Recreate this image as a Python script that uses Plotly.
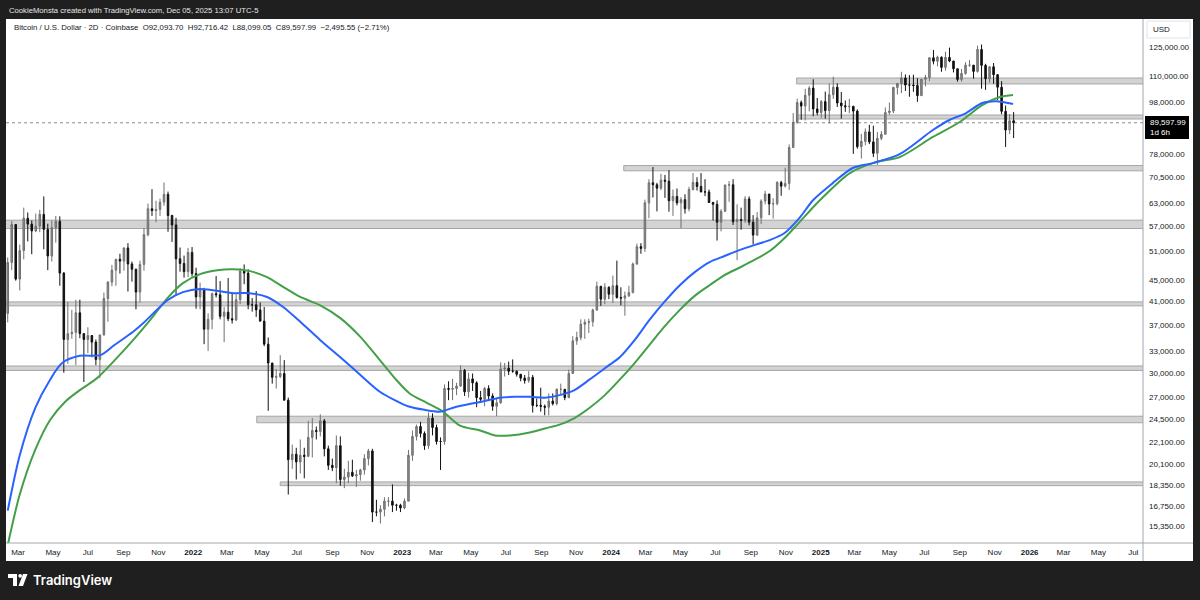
import numpy as np
import pandas as pd
import plotly.graph_objects as go

# ---------------- DATA (weekly candles, thousands of USD; weeks start Mon 2021-02-01) ----------------
close_2021 = [38.9, 48.6, 57.4, 45.2, 51.2, 59.0, 57.5, 55.8, 57.0, 60.0, 56.2, 50.0, 56.6, 58.2, 46.4, 34.7,
              35.6, 35.8, 39.0, 35.6, 34.7, 35.3, 34.3, 31.8, 35.4, 41.5, 44.6, 47.0, 49.3, 48.9, 51.8, 48.3,
              47.2, 42.7, 48.2, 54.9, 61.5, 61.0, 61.3, 63.3, 65.5, 59.7, 57.3, 49.4, 48.4, 46.7, 50.8, 46.3]
high_2021 = [40.9, 49.7, 58.3, 57.5, 52.6, 61.8, 60.5, 58.4, 60.2, 61.2, 64.9, 57.6, 58.4, 59.6, 59.5, 46.6,
             40.9, 39.5, 41.3, 41.3, 35.7, 36.6, 35.1, 34.7, 35.4, 42.6, 44.8, 48.1, 49.3, 50.5, 51.9, 52.9,
             48.8, 47.3, 49.0, 56.5, 62.9, 67.0, 63.7, 64.3, 69.0, 66.3, 59.9, 59.1, 51.9, 50.1, 51.8, 52.0]
low_2021 = [32.3, 37.4, 47.0, 44.9, 43.0, 49.3, 53.3, 50.4, 55.5, 55.5, 51.5, 47.0, 48.8, 53.0, 43.9, 30.0,
            31.2, 34.8, 31.0, 34.9, 28.8, 32.7, 32.1, 31.0, 29.3, 35.3, 37.5, 43.8, 43.9, 46.3, 46.9, 42.8,
            44.7, 39.6, 40.8, 46.9, 54.5, 59.6, 58.0, 59.6, 62.3, 55.6, 53.2, 42.0, 46.7, 45.5, 45.6, 45.7]

close_2022 = [41.8, 43.1, 36.3, 37.9, 42.4, 42.2, 38.4, 39.1, 38.0, 37.8, 41.3, 46.8, 46.4, 40.4, 40.4, 39.5,
              37.6, 34.0, 31.3, 29.4, 29.5, 29.9, 26.6, 20.5, 21.0, 20.3, 20.9, 20.8, 22.6, 23.3, 23.2, 24.3,
              21.5, 20.0, 19.8, 21.8, 18.8, 19.0, 19.4, 19.1, 19.2, 19.6, 20.6, 21.3, 16.3, 16.3, 16.5, 17.1,
              17.1, 16.8, 16.8, 16.6]
high_2022 = [47.5, 44.5, 43.5, 38.9, 42.6, 45.8, 44.8, 40.0, 45.4, 42.6, 42.3, 47.4, 48.2, 47.2, 41.6, 42.9,
             40.8, 40.0, 35.0, 31.3, 30.5, 32.4, 31.7, 26.9, 21.9, 21.6, 22.4, 21.6, 24.3, 24.6, 23.7, 25.0,
             24.5, 21.8, 20.6, 22.8, 22.7, 19.7, 20.4, 20.5, 19.6, 19.7, 21.0, 21.5, 21.5, 17.2, 16.8, 17.4,
             17.4, 18.4, 16.9, 16.9]
low_2022 = [39.7, 39.6, 34.0, 33.0, 36.3, 41.7, 37.9, 34.3, 37.6, 37.2, 37.6, 40.5, 44.2, 39.6, 39.2, 38.3,
            37.6, 33.7, 25.4, 28.6, 28.0, 29.3, 26.6, 17.6, 19.7, 18.8, 19.3, 18.9, 20.8, 20.7, 22.4, 22.7,
            20.8, 19.6, 19.5, 18.5, 18.3, 18.1, 18.5, 19.0, 18.2, 18.7, 19.2, 20.0, 15.6, 16.0, 15.5, 16.0,
            16.7, 16.3, 16.4, 16.3]

close_2023 = [17.1, 20.9, 22.7, 23.7, 23.0, 21.8, 24.6, 23.6, 22.2, 22.2, 28.0, 27.9, 28.0, 28.3, 30.3, 27.6,
              29.2, 28.7, 26.9, 26.7, 28.0, 27.1, 25.9, 26.3, 30.5, 30.6, 30.2, 30.2, 29.8, 29.3, 29.0, 29.4,
              26.0, 26.0, 25.9, 25.8, 26.5, 26.2, 27.9, 27.9, 26.9, 29.9, 34.5, 35.0, 37.1, 37.4, 37.5, 39.5,
              43.8, 41.4, 43.6, 42.3]
high_2023 = [17.3, 21.4, 23.3, 23.9, 24.2, 23.2, 25.2, 25.1, 23.9, 22.6, 28.5, 28.9, 29.2, 28.7, 31.0, 30.5,
             30.0, 29.9, 28.9, 27.7, 28.2, 28.4, 27.4, 26.8, 31.4, 31.3, 31.5, 31.8, 30.3, 29.7, 29.7, 30.2,
             29.7, 26.8, 28.1, 26.1, 27.4, 27.4, 28.0, 28.6, 27.9, 30.4, 35.2, 35.9, 37.9, 37.9, 38.0, 39.7,
             44.7, 43.4, 44.4, 43.8]
low_2023 = [16.5, 17.1, 20.4, 22.3, 22.6, 21.4, 21.5, 22.8, 21.9, 19.6, 21.9, 26.6, 26.6, 27.2, 28.2, 27.1,
            26.9, 27.7, 25.8, 26.3, 25.9, 26.5, 25.4, 24.8, 26.2, 29.5, 29.7, 30.0, 29.5, 28.9, 28.6, 28.7,
            25.2, 25.8, 25.3, 24.9, 24.9, 26.0, 26.0, 27.2, 26.6, 26.9, 29.9, 33.9, 34.6, 34.8, 35.7, 36.7,
            39.3, 40.2, 40.5, 41.4]

close_2024 = [43.9, 41.7, 41.6, 42.0, 42.6, 48.3, 52.1, 51.7, 63.1, 68.9, 68.3, 67.3, 69.7, 69.4, 63.7, 64.9,
              63.1, 64.0, 61.5, 66.9, 69.0, 67.8, 66.2, 66.2, 63.2, 62.7, 58.0, 60.8, 68.2, 68.3, 58.1, 58.7,
              58.4, 64.2, 58.0, 54.8, 59.1, 63.6, 65.6, 62.8, 62.9, 69.0, 67.9, 68.7, 80.4, 89.8, 97.9, 96.4,
              101.1, 104.3, 95.2, 93.7, 98.3]
high_2024 = [45.9, 49.0, 43.6, 42.8, 43.9, 48.6, 52.8, 52.9, 64.0, 70.0, 73.8, 68.9, 71.7, 71.3, 72.8, 66.9,
             67.2, 64.7, 65.5, 67.7, 71.9, 70.6, 71.9, 70.0, 66.9, 63.4, 63.8, 61.4, 68.4, 69.4, 70.0, 62.7,
             61.8, 65.0, 64.9, 59.8, 60.6, 64.1, 66.5, 65.5, 64.4, 69.4, 69.5, 73.6, 81.5, 93.5, 99.6, 98.8,
             104.0, 105.2, 108.4, 99.9, 99.0]
low_2024 = [40.7, 41.5, 40.3, 38.5, 41.8, 42.5, 48.1, 50.5, 50.9, 59.0, 64.6, 60.8, 66.7, 64.5, 60.7, 59.6,
            62.4, 56.5, 60.2, 60.8, 66.6, 66.6, 66.1, 65.0, 63.1, 58.4, 53.5, 55.7, 60.8, 63.4, 57.3, 49.1,
            56.1, 57.8, 57.2, 52.6, 54.6, 57.5, 62.7, 59.8, 58.9, 62.4, 65.1, 67.5, 66.8, 80.2, 89.2, 90.8,
            90.5, 94.2, 92.2, 92.6, 91.4]

close_2025 = [94.5, 101.3, 104.7, 97.7, 96.5, 96.1, 96.3, 94.3, 80.7, 82.6, 86.1, 82.4, 78.4, 83.7, 85.2, 93.7,
              94.3, 104.6, 106.4, 109.0, 105.7, 105.7, 105.5, 100.9, 108.4, 109.2, 119.1, 117.3, 119.4, 114.2,
              119.3, 117.4, 113.5, 108.3, 111.2, 115.3, 115.3, 112.2, 123.5, 115.2, 108.6, 114.5, 110.6, 104.7,
              94.2, 86.8, 90.4, 89.6]
high_2025 = [102.7, 106.4, 109.6, 106.5, 102.5, 98.8, 99.5, 96.5, 95.0, 85.3, 87.4, 88.8, 88.5, 86.0, 86.4, 95.8,
             97.9, 104.9, 106.7, 112.0, 110.7, 110.4, 110.6, 108.9, 108.5, 110.5, 119.5, 123.2, 120.2, 119.8,
             122.3, 124.5, 117.5, 113.5, 113.4, 116.8, 117.9, 113.4, 125.6, 126.2, 116.0, 114.5, 116.4, 110.7,
             107.5, 96.6, 93.1, 93.9]
low_2025 = [91.2, 89.3, 99.5, 96.0, 91.2, 94.0, 93.4, 78.2, 80.0, 76.6, 81.2, 81.6, 77.1, 74.5, 83.0, 85.1,
            92.8, 93.4, 101.4, 102.0, 103.0, 100.4, 102.6, 98.2, 101.2, 105.1, 107.5, 115.7, 114.7, 112.0,
            112.6, 116.8, 111.7, 107.3, 107.3, 110.6, 114.5, 108.7, 111.6, 104.0, 103.5, 106.8, 106.3, 98.9,
            93.0, 80.6, 85.3, 83.8]
first_open = 33.1

# moving averages (thousands of USD)
blue_dates = ["2021-02-11", "2021-03-04", "2021-03-31", "2021-04-26", "2021-05-17", "2021-06-17", "2021-07-23",
              "2021-08-17", "2021-09-18", "2021-10-06", "2021-11-17", "2021-12-14",
              "2022-01-13", "2022-03-12", "2022-04-10", "2022-05-10", "2022-06-07", "2022-07-07", "2022-08-11",
              "2022-09-15", "2022-10-20", "2022-11-23", "2022-12-19",
              "2023-01-11", "2023-02-09", "2023-03-08", "2023-04-03", "2023-05-17", "2023-06-21", "2023-07-17",
              "2023-08-12", "2023-09-07", "2023-10-03", "2023-10-29", "2023-11-24", "2023-12-21",
              "2024-01-16", "2024-02-11", "2024-03-08", "2024-04-03", "2024-04-30", "2024-05-26", "2024-06-21",
              "2024-07-17", "2024-08-12", "2024-09-08", "2024-10-04", "2024-10-30", "2024-11-25", "2024-12-19",
              "2025-01-22", "2025-02-26", "2025-04-02", "2025-05-19", "2025-07-16", "2025-08-14", "2025-09-12",
              "2025-10-10", "2025-11-04", "2025-11-15", "2025-12-03"]
blue_vals = [16.4, 20.9, 25.7, 29.1, 31.3, 32.3, 32.4, 33.9, 35.9, 37.3, 41.2, 42.7,
             43.3, 42.5, 42.5, 41.8, 40.0, 37.5, 34.6, 32.1, 29.7, 27.6, 26.6,
             25.9, 25.5, 25.3, 25.8, 26.4, 26.9, 27.0, 27.0, 26.9, 27.2, 27.8, 29.1, 30.6,
             32.1, 34.6, 37.8, 40.9, 44.0, 46.6, 48.7, 50.0, 51.3, 52.5, 53.6, 55.3, 59.1, 63.9,
             68.8, 73.5, 75.1, 78.1, 86.8, 90.7, 93.5, 97.7, 98.5, 98.1, 97.3]

green_dates = ["2021-02-11", "2021-03-04", "2021-03-31", "2021-04-26", "2021-05-22", "2021-06-17", "2021-07-17",
               "2021-08-17", "2021-09-18", "2021-10-18", "2021-11-17", "2021-12-14",
               "2022-01-13", "2022-02-12", "2022-03-12", "2022-04-10", "2022-05-10", "2022-06-07", "2022-07-07",
               "2022-08-11", "2022-09-15", "2022-10-20", "2022-11-23", "2022-12-19",
               "2023-01-14", "2023-02-13", "2023-03-13", "2023-04-12", "2023-05-17", "2023-06-12", "2023-07-08",
               "2023-08-12", "2023-09-07", "2023-10-03", "2023-10-29", "2023-11-24", "2023-12-21",
               "2024-01-16", "2024-02-11", "2024-03-08", "2024-04-03", "2024-04-30", "2024-05-26", "2024-06-21",
               "2024-07-17", "2024-08-12", "2024-09-08", "2024-10-04", "2024-10-30", "2024-11-25", "2024-12-31",
               "2025-02-21", "2025-04-09", "2025-05-19", "2025-07-16", "2025-09-01", "2025-10-10", "2025-11-10",
               "2025-12-03"]
green_vals = [14.1, 17.6, 21.4, 24.4, 26.4, 27.8, 29.3, 31.7, 34.6, 37.8, 41.6, 44.4,
              46.2, 47.0, 47.2, 46.8, 45.6, 43.7, 41.8, 40.3, 38.1, 35.1, 31.7, 29.3,
              27.4, 26.3, 25.3, 23.8, 23.3, 22.8, 22.8, 23.1, 23.5, 23.9, 24.6, 25.7, 27.2,
              29.1, 31.3, 33.9, 36.7, 39.5, 42.0, 44.0, 46.0, 47.5, 49.2, 51.1, 54.1, 58.0, 63.9,
              71.9, 75.5, 77.1, 84.2, 89.9, 96.8, 100.3, 101.2]

# support / resistance zones (thousands of USD)
zone_lo = [106.2, 91.1, 72.6, 56.4, 40.2, 30.3, 24.1, 18.3]
zone_hi = [109.0, 92.7, 74.3, 58.5, 40.9, 30.9, 24.8, 18.6]
zone_start = ["2024-11-20", "2024-11-20", "2024-01-23", "2021-01-01", "2021-01-01", "2021-01-01",
              "2022-04-22", "2022-06-02"]

last_price = 89597.99
y_ticks = [125000, 110000, 98000, 78000, 70500, 63000, 57000, 51000, 45000, 41000, 37000, 33000,
           30000, 27000, 24500, 22100, 20100, 18350, 16750, 15350]

header = ("Bitcoin / U.S. Dollar · 2D · Coinbase  O92,093.70  H92,716.42  L88,099.05  "
          "C89,597.99  −2,495.55 (−2.71%)")
caption = "CookieMonsta created with TradingView.com, Dec 05, 2025 13:07 UTC-5"

# ---------------- BUILD ----------------
K = 1000.0
close = np.array(close_2021 + close_2022 + close_2023 + close_2024 + close_2025) * K
high = np.array(high_2021 + high_2022 + high_2023 + high_2024 + high_2025) * K
low = np.array(low_2021 + low_2022 + low_2023 + low_2024 + low_2025) * K
open_ = np.concatenate([[first_open * K], close[:-1]])
assert len(close) == len(high) == len(low)
dates = pd.date_range("2021-02-04", periods=len(close), freq="7D")

W, H = 1200, 600
PL, PR, PT, PB = 6, 1143, 19, 543
def px(x):
    return (x - PL) / (PR - PL)
def py(y):
    return (PB - y) / (PB - PT)

DARK = "#1f1f1f"
TXT = "#131722"
FONT = "Liberation Sans"

fig = go.Figure()
fig.add_trace(go.Candlestick(
    x=dates, open=open_, high=high, low=low, close=close,
    increasing=dict(line=dict(color="#707070", width=1), fillcolor="#8c8c8c"),
    decreasing=dict(line=dict(color="#111111", width=1), fillcolor="#111111"),
    whiskerwidth=0, hoverinfo="skip", showlegend=False))
fig.add_trace(go.Scatter(x=pd.to_datetime(green_dates), y=np.array(green_vals) * K, mode="lines",
                         line=dict(color="#43a047", width=2, shape="spline", smoothing=0.8),
                         hoverinfo="skip", showlegend=False))
fig.add_trace(go.Scatter(x=pd.to_datetime(blue_dates), y=np.array(blue_vals) * K, mode="lines",
                         line=dict(color="#2962ff", width=2, shape="spline", smoothing=0.8),
                         hoverinfo="skip", showlegend=False))

shapes = []
for lo, hi, st in zip(zone_lo, zone_hi, zone_start):
    shapes.append(dict(type="rect", xref="x", yref="y", x0=st, x1="2027-01-01",
                       y0=lo * K, y1=hi * K, layer="below",
                       fillcolor="#d3d3d3", line=dict(color="#a6a6a6", width=1)))
# current price dotted line
shapes.append(dict(type="line", xref="paper", yref="y", x0=0, x1=1, y0=last_price, y1=last_price,
                   line=dict(color="#8a8a8a", width=1, dash="dot"), layer="below"))
# dark frame
for x0, x1, y0, y1 in [(0, W, 0, PT), (0, W, 561, H), (0, PL, 0, H), (1193, W, 0, H)]:
    shapes.append(dict(type="rect", xref="paper", yref="paper", x0=px(x0), x1=px(x1), y0=py(y1), y1=py(y0),
                       fillcolor=DARK, line=dict(width=0), layer="above"))
# axis separator lines
shapes.append(dict(type="line", xref="paper", yref="paper", x0=1, x1=1, y0=py(561), y1=py(PT),
                   line=dict(color="#a3a6af", width=1)))
shapes.append(dict(type="line", xref="paper", yref="paper", x0=0, x1=px(1193), y0=0, y1=0,
                   line=dict(color="#a3a6af", width=1)))
# USD box
shapes.append(dict(type="rect", xref="paper", yref="paper", x0=px(1147), x1=px(1190), y0=py(38), y1=py(21),
                   fillcolor="white", line=dict(color="#e0e3eb", width=1)))
# price label box
shapes.append(dict(type="rect", xref="paper", yref="paper", x0=px(1145), x1=px(1189), y0=py(139), y1=py(116),
                   fillcolor="#000000", line=dict(width=0), layer="above"))
# TradingView logo glyph
def path(pts):
    return "M " + " L ".join(f"{px(a)},{py(b)}" for a, b in pts) + " Z"
shapes.append(dict(type="path", xref="paper", yref="paper", path=path([(8, 574), (17, 574), (17, 586), (13, 586),
                                                                        (13, 578), (8, 578)]),
                   fillcolor="white", line=dict(width=0), layer="above"))
shapes.append(dict(type="circle", xref="paper", yref="paper", x0=px(18.3), x1=px(22), y0=py(577.7), y1=py(574),
                   fillcolor="white", line=dict(width=0), layer="above"))
shapes.append(dict(type="path", xref="paper", yref="paper", path=path([(23, 574), (27.5, 574), (23, 586),
                                                                        (18.5, 586)]),
                   fillcolor="white", line=dict(width=0), layer="above"))

ann = [
    dict(text=caption, x=px(7), y=py(10), xanchor="left", yanchor="middle",
         font=dict(family=FONT, size=7.7, color="#e6e6e6")),
    dict(text=header, x=px(12), y=py(27), xanchor="left", yanchor="middle",
         font=dict(family=FONT, size=7.8, color=TXT)),
    dict(text="USD", x=px(1151), y=py(29.5), xanchor="left", yanchor="middle",
         font=dict(family=FONT, size=8, color=TXT)),
    dict(text=f"{last_price:,.2f}", x=px(1148), y=py(122.5), xanchor="left", yanchor="middle",
         font=dict(family=FONT, size=8, color="white")),
    dict(text="1d 6h", x=px(1148), y=py(132.5), xanchor="left", yanchor="middle",
         font=dict(family=FONT, size=8, color="white")),
    dict(text="TradingView", x=px(31), y=py(580), xanchor="left", yanchor="middle",
         font=dict(family="Inter", size=13, color="white", weight=600)),
]
for a in ann:
    a.update(xref="paper", yref="paper", showarrow=False)

months = pd.date_range("2021-03-01", "2026-07-01", freq="2MS")
x_text = [f"<b>{d.year}</b>" if d.month == 1 else d.strftime("%b") for d in months]

fig.update_layout(
    width=W, height=H, margin=dict(l=PL, r=W - PR, t=PT, b=H - PB),
    paper_bgcolor="white", plot_bgcolor="white", boxgap=0.45,
    shapes=shapes, annotations=ann, hovermode=False, showlegend=False,
    xaxis=dict(type="date", range=["2021-02-08", "2026-07-18"], rangeslider=dict(visible=False),
               showgrid=False, zeroline=False, showline=False, tickmode="array", tickvals=months,
               ticktext=x_text, ticks="", ticklabelstandoff=3,
               tickfont=dict(family=FONT, size=8, color=TXT)),
    yaxis=dict(type="log", range=[4.1534, 5.1496], side="right", showgrid=False, zeroline=False,
               showline=False, tickmode="array", tickvals=y_ticks,
               ticktext=[f"{v:,.2f}" for v in y_ticks], ticks="", ticklabelstandoff=5,
               tickfont=dict(family=FONT, size=8, color=TXT)),
)

fig.write_html("out.html", config={"displayModeBar": False},
               post_script="document.body.style.margin='0px';")
